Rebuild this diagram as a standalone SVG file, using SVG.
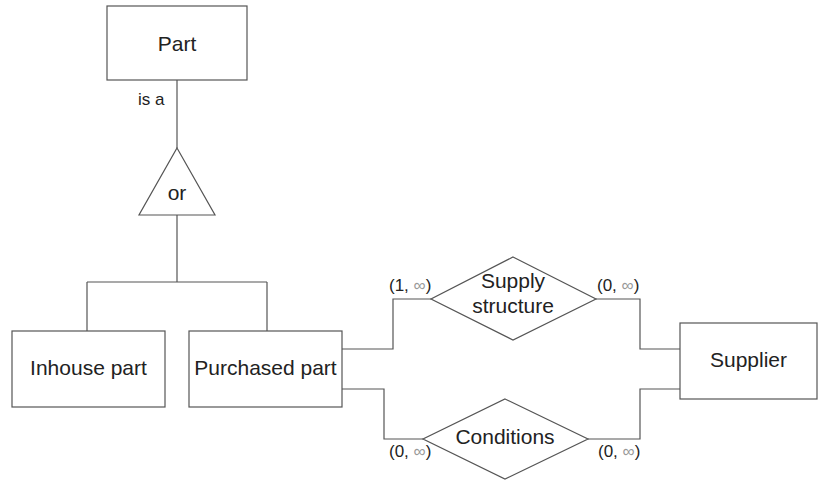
<svg xmlns="http://www.w3.org/2000/svg" width="818" height="480" viewBox="0 0 818 480">
<style>
.box{fill:#fff;stroke:#555;stroke-width:1.2}
.ln{fill:none;stroke:#555;stroke-width:1.2}
.t{font-family:"Liberation Sans",Arial,sans-serif;font-size:21px;fill:#222;text-anchor:middle}
.s{font-family:"Liberation Sans",Arial,sans-serif;font-size:17px;fill:#222}
.inf{fill:#999}
</style>
<rect width="818" height="480" fill="#fff"/>
<g id="connectors">
<path class="ln" d="M177,80 V148"/>
<path class="ln" d="M177,215 V282 M87,282 H267 M87,282 V331 M267,282 V331"/>
<path class="ln" d="M342,349 H393 V299 H431"/>
<path class="ln" d="M596,299 H640 V349 H680"/>
<path class="ln" d="M342,389 H384 V439 H423"/>
<path class="ln" d="M588,439 H640 V389 H680"/>
<text class="s" x="138" y="105">is a</text>
<text class="s" x="389" y="291">(1, <tspan class="inf">∞</tspan>)</text>
<text class="s" x="597" y="291">(0, <tspan class="inf">∞</tspan>)</text>
<text class="s" x="389" y="457">(0, <tspan class="inf">∞</tspan>)</text>
<text class="s" x="598" y="457">(0, <tspan class="inf">∞</tspan>)</text>
</g>
<g id="part">
<rect class="box" x="107" y="6" width="140" height="74"/>
<text class="t" x="177" y="51">Part</text>
</g>
<g id="or">
<polygon class="box" points="177,148 215,215 139,215"/>
<text class="t" x="177" y="200">or</text>
</g>
<g id="inhouse">
<rect class="box" x="12" y="331" width="153" height="76"/>
<text class="t" x="88.5" y="375">Inhouse part</text>
</g>
<g id="purchased">
<rect class="box" x="189" y="331" width="153" height="76"/>
<text class="t" x="265.5" y="375">Purchased part</text>
</g>
<g id="supply">
<polygon class="box" points="513,257 596,299 513,340 431,299"/>
<text class="t" x="513" y="288">Supply</text>
<text class="t" x="513" y="313">structure</text>
</g>
<g id="conditions">
<polygon class="box" points="505,399 588,439 505,479 423,439"/>
<text class="t" x="505" y="444">Conditions</text>
</g>
<g id="supplier">
<rect class="box" x="680" y="323" width="137" height="76"/>
<text class="t" x="748.5" y="367">Supplier</text>
</g>
</svg>
